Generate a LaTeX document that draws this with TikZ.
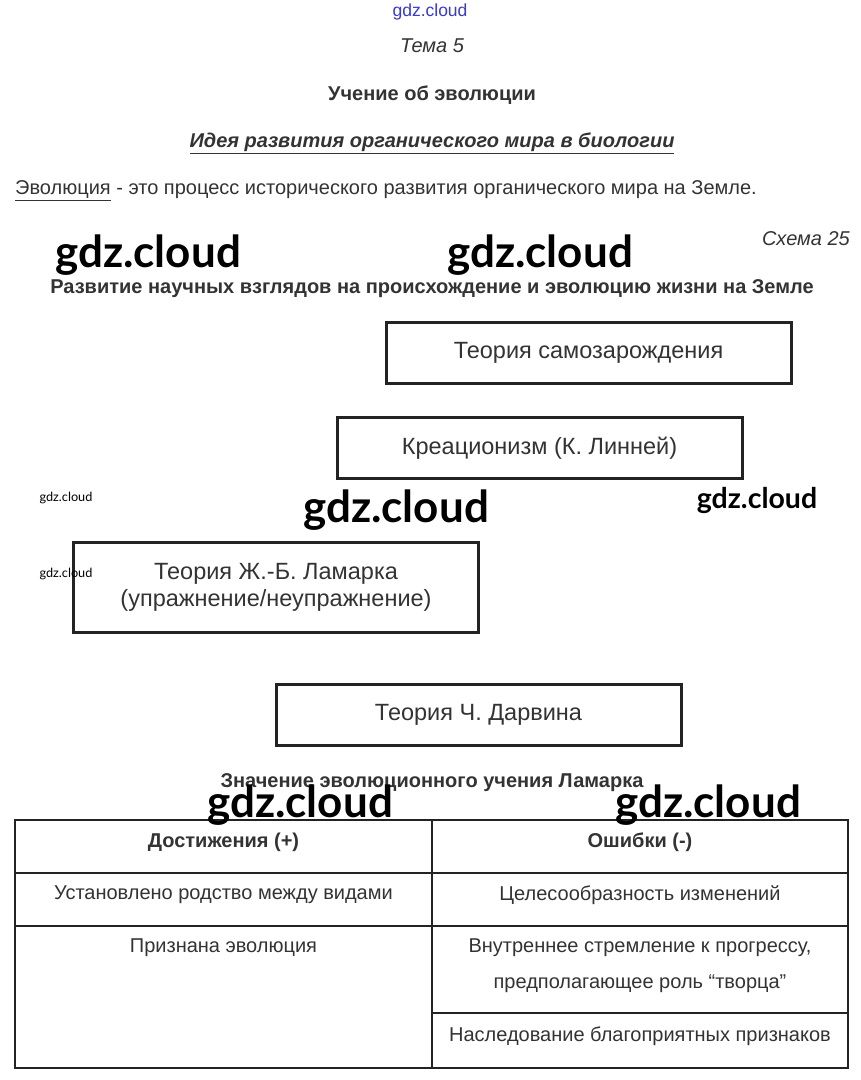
\documentclass[tikz,border=0pt]{standalone}
\usepackage{fontspec}
\setmainfont{Liberation Sans}
\newfontfamily\wmfont{Lato}
\usetikzlibrary{positioning}
\definecolor{ink}{HTML}{333333}
\definecolor{frame}{HTML}{232323}
\definecolor{wmblue}{HTML}{3A3AD0}

\tikzset{
  theory/.style={draw=frame,line width=3pt,minimum width=405pt,minimum height=61pt,
    inner sep=0pt,align=center,text=ink,font=\fontsize{23.5}{27}\selectfont},
  plain/.style={text=ink,inner sep=0pt,font=\fontsize{20}{23}\selectfont},
  cell/.style={text=ink,inner sep=0pt,align=center,font=\fontsize{20}{36}\selectfont},
  head/.style={text=ink,inner sep=0pt,font=\bfseries\fontsize{20}{23}\selectfont},
  tabline/.style={draw=frame,line width=2pt},
  wm/.style={inner sep=0pt,text=black,font=\wmfont\bfseries\fontsize{44}{44}\selectfont},
  wmsmall/.style={inner sep=0pt,text=black,font=\wmfont\fontsize{12.7}{12.7}\selectfont},
}

\begin{document}
\begin{tikzpicture}[x=1pt,y=-1pt]
\useasboundingbox[fill=white] (0,0) rectangle (861,1080);
% headings
\node[inner sep=0pt,text=wmblue,font=\fontsize{17.5}{17.5}\selectfont] (site) at (430,12) {gdz.cloud};
\node[plain,font=\itshape\fontsize{20}{23}\selectfont] (topic) at (432,46) {Тема 5};
\node[head] (title) at (432,95) {Учение об эволюции};
\node[head,font=\bfseries\itshape\fontsize{20}{23}\selectfont] (idea) at (432,143) {\underline{Идея развития органического мира в биологии}};
\node[plain,anchor=west] (defn) at (15,191) {\underline{Эволюция} - это процесс исторического развития органического мира на Земле.};
\node[plain,anchor=east,font=\itshape\fontsize{20}{23}\selectfont] (scheme) at (850,239) {Схема 25};
\node[head] (views) at (432,289) {Развитие научных взглядов на происхождение и эволюцию жизни на Земле};
% theories
\node[theory] (spont) at (588.5,352.5) {Теория самозарождения};
\node[theory] (creat) at (539.5,448) {Креационизм (К. Линней)};
\node[theory,minimum height=90pt] (lamarck) at (276,587) {Теория Ж.-Б. Ламарка\\(упражнение/неупражнение)};
\node[theory] (darwin) at (478.5,715) {Теория Ч. Дарвина};
% table
\node[head] (meaning) at (432,783) {Значение эволюционного учения Ламарка};
\draw[tabline] (15,820) rectangle (848,1068);
\draw[tabline] (432,820) -- (432,1068);
\draw[tabline] (15,873) -- (848,873);
\draw[tabline] (15,926) -- (848,926);
\draw[tabline] (432,1013) -- (848,1013);
\node[head] (plus) at (223.5,842) {Достижения (+)};
\node[head] (minus) at (640,842) {Ошибки (-)};
\node[cell] (kin) at (223.5,895) {Установлено родство между видами};
\node[cell] (purpose) at (640,895) {Целесообразность изменений};
\node[cell] (evol) at (223.5,948) {Признана эволюция};
\node[cell] (urge) at (640,966) {Внутреннее стремление к прогрессу,\\предполагающее роль “творца”};
\node[cell] (inherit) at (640,1036) {Наследование благоприятных признаков};
% watermarks
\node[wm] (wm1) at (148,255) {gdz.cloud};
\node[wm] (wm2) at (540,255) {gdz.cloud};
\node[wm] (wm3) at (396,510) {gdz.cloud};
\node[wm,font=\wmfont\bfseries\fontsize{28.5}{28.5}\selectfont] (wm4) at (757,500) {gdz.cloud};
\node[wm] (wm5) at (300,805) {gdz.cloud};
\node[wm] (wm6) at (708,805) {gdz.cloud};
\node[wmsmall] (wm7) at (66,498) {gdz.cloud};
\node[wmsmall] (wm8) at (66,574) {gdz.cloud};
\end{tikzpicture}
\end{document}
